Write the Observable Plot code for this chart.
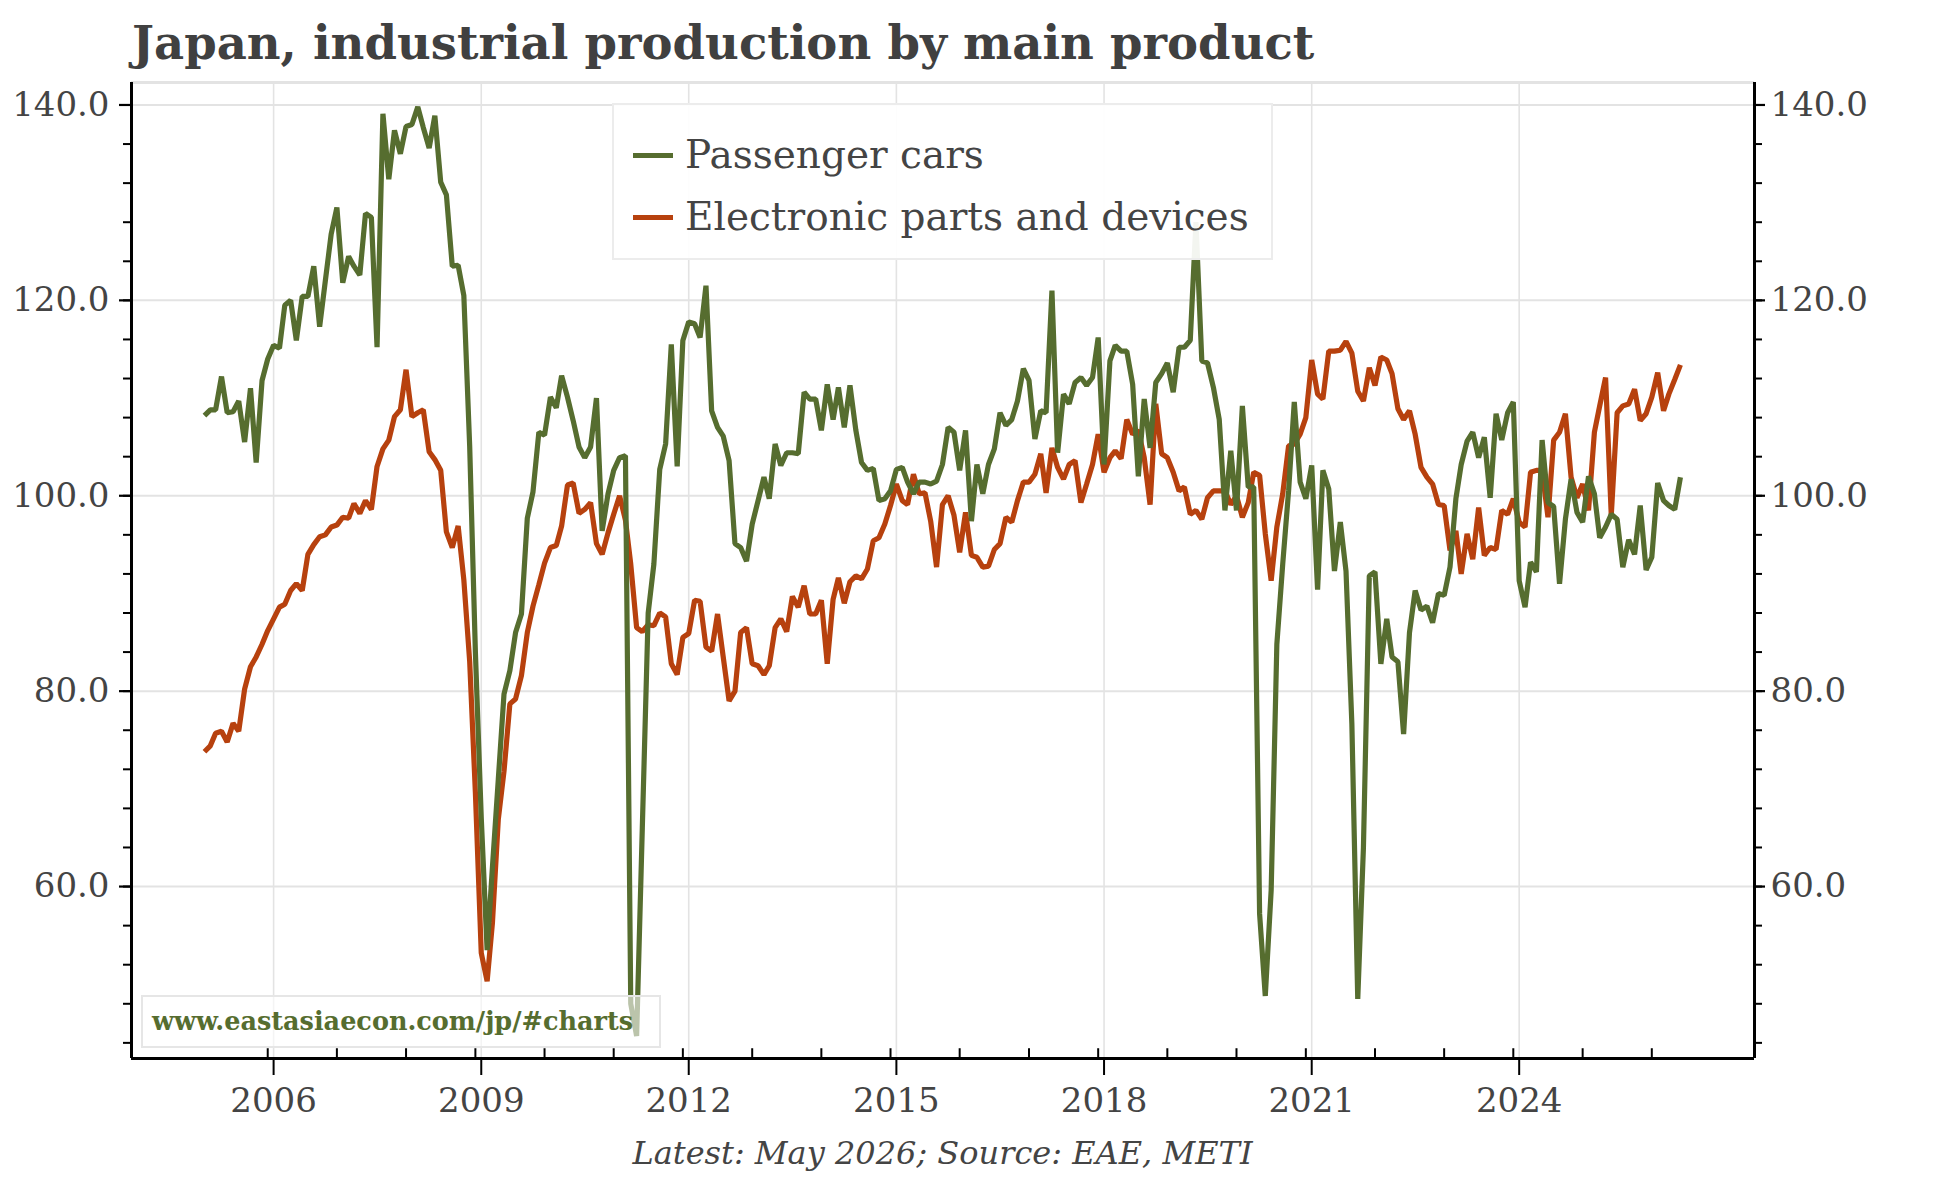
<!DOCTYPE html>
<html>
<head>
<meta charset="utf-8">
<script src="https://cdn.jsdelivr.net/npm/d3@7"></script>
<script src="https://cdn.jsdelivr.net/npm/@observablehq/plot@0.6"></script>
<style>
  body { margin:0; background:#fff; width:1944px; height:1178px; position:relative; overflow:hidden;
         font-family:"DejaVu Serif", serif; color:#444; }
  #title { position:absolute; left:132px; top:20px; font-size:46.5px; line-height:46px; font-weight:bold;
           white-space:nowrap; color:#404040; }
  #chart { position:absolute; left:0; top:70px; }
  #legend { position:absolute; left:612px; top:103px; width:661px; height:157px; box-sizing:border-box;
            background:rgba(255,255,255,0.93); border:2px solid #ececec; }
  .row { position:absolute; left:19px; height:50px; display:flex; align-items:center; }
  .sw { width:40px; height:5px; margin-right:12px; }
  .lt { font-size:39px; line-height:50px; color:#444; white-space:nowrap; }
  #mark { position:absolute; left:141px; top:995px; width:520px; height:53px; box-sizing:border-box;
          background:rgba(255,255,255,0.6); border:2px solid #e6e6e6; font-weight:bold; font-size:25.5px;
          line-height:49px; padding-left:9px; white-space:nowrap; }
  #caption { position:absolute; left:131px; width:1623px; top:1137px; text-align:center; font-style:italic;
             font-size:32px; line-height:33px; color:#444; white-space:nowrap; }
</style>
</head>
<body>
<div id="title"></div>
<div id="chart"></div>
<div id="legend"></div>
<div id="mark"></div>
<div id="caption"></div>
<script>
const titleText = "Japan, industrial production by main product";
const captionText = "Latest: May 2026; Source: EAE, METI";
const watermarkText = "www.eastasiaecon.com/jp/#charts";
const seriesNames = ["Passenger cars", "Electronic parts and devices"];
const seriesColors = ["#566d2f", "#b7410e"];
const firstMonth = [2005, 0];   // Jan 2005
const lastMonth = [2026, 4];    // May 2026
const majorYears = [2006, 2009, 2012, 2015, 2018, 2021, 2024];
const yMajor = [60, 80, 100, 120, 140];
const yMinor = [44, 48, 52, 56, 60, 64, 68, 72, 76, 80, 84, 88, 92, 96, 100, 104, 108, 112, 116, 120, 124, 128, 132, 136, 140];

// Passenger cars, monthly Jan 2005 - May 2026
const passengerCars = [
  108.2, 108.8, 108.8, 112.2, 108.5, 108.6, 109.7, 105.5, 111.0, 103.4, 111.8, 114.0,
  115.4, 115.1, 119.5, 120.0, 115.9, 120.4, 120.4, 123.5, 117.3, 122.0, 126.8, 129.5,
  121.8, 124.5, 123.5, 122.6, 128.9, 128.5, 115.2, 139.1, 132.4, 137.4, 135.0, 137.8,
  138.0, 139.8, 137.7, 135.6, 138.9, 132.1, 130.8, 123.5, 123.6, 120.5, 105.0, 84.0,
  67.0, 53.5, 62.0, 71.0, 79.7, 82.1, 86.0, 87.9, 97.7, 100.4, 106.5, 106.2,
  110.1, 109.0, 112.3, 110.1, 107.7, 105.0, 103.9, 105.0, 110.0, 96.4, 100.2, 102.6,
  103.9, 104.1, 48.0, 44.7, 66.0, 88.0, 93.0, 102.7, 105.3, 115.5, 103.0, 115.9,
  117.8, 117.6, 116.2, 121.5, 108.7, 107.0, 106.1, 103.6, 95.1, 94.7, 93.3, 97.1,
  99.5, 101.9, 99.7, 105.3, 103.1, 104.4, 104.4, 104.3, 110.6, 109.9, 109.9, 106.7,
  111.4, 107.8, 111.1, 107.0, 111.3, 106.7, 103.4, 102.6, 102.8, 99.5, 99.7, 100.5,
  102.7, 102.9, 101.4, 100.2, 101.4, 101.4, 101.2, 101.5, 103.2, 107.0, 106.5, 102.6,
  106.7, 97.4, 103.2, 100.2, 103.2, 104.8, 108.5, 107.2, 107.8, 109.7, 113.0, 111.8,
  105.8, 108.7, 108.5, 121.0, 104.4, 110.4, 109.4, 111.6, 112.1, 111.3, 112.1, 116.2,
  103.2, 113.8, 115.4, 114.8, 114.8, 111.4, 102.0, 109.9, 104.9, 111.6, 112.5, 113.6,
  110.6, 115.2, 115.2, 115.9, 128.0, 113.8, 113.6, 111.1, 107.8, 98.5, 104.6, 98.5,
  109.2, 100.9, 100.9, 57.2, 48.8, 59.6, 84.8, 93.0, 100.5, 109.6, 101.4, 99.7,
  103.1, 90.4, 102.6, 100.7, 92.3, 97.3, 92.3, 76.6, 48.5, 64.0, 91.8, 92.2,
  82.8, 87.4, 83.5, 83.0, 75.6, 86.0, 90.3, 88.3, 88.7, 87.0, 90.0, 89.8,
  92.7, 99.7, 103.2, 105.6, 106.5, 103.9, 106.0, 99.8, 108.4, 105.7, 108.5, 109.6,
  91.3, 88.6, 93.2, 92.2, 105.7, 99.3, 98.9, 91.0, 97.6, 101.7, 98.3, 97.3,
  102.0, 100.2, 95.7, 96.8, 98.1, 97.6, 92.7, 95.5, 94.0, 99.0, 92.4, 93.7,
  101.3, 99.5, 99.0, 98.6, 101.9
];

// Electronic parts and devices, monthly Jan 2005 - May 2026
const electronicParts = [
  73.8, 74.4, 75.7, 75.9, 74.8, 76.7, 75.9, 80.2, 82.5, 83.5, 84.8, 86.2,
  87.4, 88.6, 88.9, 90.3, 91.0, 90.3, 94.0, 95.0, 95.8, 96.0, 96.8, 97.0,
  97.8, 97.7, 99.2, 98.2, 99.5, 98.6, 103.0, 104.8, 105.7, 108.1, 108.8, 112.9,
  108.1, 108.5, 108.8, 104.5, 103.7, 102.6, 96.3, 94.7, 96.9, 91.4, 83.0, 69.6,
  53.2, 50.3, 56.3, 66.9, 71.8, 78.7, 79.2, 81.6, 86.0, 88.7, 90.9, 93.1,
  94.7, 94.9, 96.9, 101.1, 101.3, 98.2, 98.6, 99.3, 95.1, 94.0, 96.2, 98.1,
  100.0, 97.5, 93.0, 86.5, 86.1, 86.8, 86.7, 88.0, 87.6, 82.8, 81.7, 85.5,
  85.9, 89.3, 89.2, 84.5, 84.1, 87.9, 83.5, 79.0, 80.0, 86.0, 86.5, 82.8,
  82.6, 81.7, 82.6, 86.5, 87.4, 86.1, 89.7, 88.6, 90.8, 87.9, 87.9, 89.3,
  82.8, 89.4, 91.6, 89.0, 91.2, 91.8, 91.5, 92.5, 95.4, 95.7, 97.1, 99.0,
  101.2, 99.5, 99.1, 102.2, 100.2, 100.3, 97.4, 92.7, 99.1, 100.0, 98.0, 94.2,
  98.3, 93.9, 93.7, 92.7, 92.8, 94.5, 95.1, 97.8, 97.3, 99.5, 101.4, 101.4,
  102.2, 104.3, 100.3, 104.9, 102.9, 101.7, 103.2, 103.6, 99.3, 101.2, 103.2, 106.3,
  102.4, 103.9, 104.6, 103.8, 107.8, 106.3, 106.7, 103.9, 99.1, 109.4, 104.3, 103.9,
  102.4, 100.5, 100.9, 98.1, 98.5, 97.6, 99.8, 100.5, 100.5, 100.5, 99.1, 100.0,
  97.8, 99.3, 102.4, 102.1, 96.1, 91.3, 96.8, 100.2, 105.1, 105.3, 106.3, 108.0,
  113.9, 110.4, 109.9, 114.8, 114.8, 114.9, 115.8, 114.6, 110.7, 109.7, 113.1, 111.3,
  114.2, 113.9, 112.5, 108.9, 107.8, 108.7, 106.3, 102.9, 101.9, 101.2, 99.1, 99.0,
  94.4, 96.4, 92.0, 96.1, 93.5, 98.8, 93.9, 94.7, 94.5, 98.5, 98.1, 99.7,
  97.3, 96.8, 102.4, 102.6, 102.6, 97.8, 105.7, 106.5, 108.4, 101.9, 99.8, 101.2,
  98.5, 106.5, 109.2, 112.1, 98.0, 108.5, 109.2, 109.4, 110.9, 107.7, 108.4, 110.1,
  112.6, 108.7, 110.4, 111.9, 113.4
];

const seriesValues = [passengerCars, electronicParts];
const dates = d3.utcMonth.range(new Date(Date.UTC(firstMonth[0], firstMonth[1], 1)),
                                new Date(Date.UTC(lastMonth[0], lastMonth[1] + 1, 1)));
const table = seriesNames.flatMap((name, s) =>
  dates.map((date, i) => ({date, series: name, value: seriesValues[s][i]})));

const xDomain = [new Date(Date.UTC(2003, 11, 13)), new Date(Date.UTC(2027, 4, 27))];
const yDomain = [42.4, 142.3];
const majorDates = majorYears.map(y => new Date(Date.UTC(y, 0, 1)));
const minorDates = d3.range(majorYears[0], lastMonth[0] + 1).map(y => new Date(Date.UTC(y - 1, 11, 1)));
const fmt = d => d.toFixed(1);
const lineOpts = {x: "date", y: "value", stroke: "series", strokeWidth: 5.2, strokeLinejoin: "miter", strokeLinecap: "butt"};

const chart = Plot.plot({
  width: 1944,
  height: 1050,
  marginLeft: 131,
  marginRight: 190,
  marginTop: 12,
  marginBottom: 62,
  x: {type: "utc", domain: xDomain},
  y: {domain: yDomain},
  color: {domain: seriesNames, range: seriesColors},
  style: {fontFamily: "'DejaVu Serif', serif", fontSize: "34px", color: "#444", background: "transparent", overflow: "visible"},
  marks: [
    Plot.gridY(yMajor, {stroke: "#e3e3e3", strokeOpacity: 1, strokeWidth: 2}),
    Plot.gridX(majorDates, {stroke: "#e3e3e3", strokeOpacity: 1, strokeWidth: 1.6}),
    Plot.ruleY([yDomain[1]], {stroke: "#e3e3e3", strokeWidth: 3}),
    Plot.lineY(table.filter(d => d.series === seriesNames[1]), lineOpts),
    Plot.lineY(table.filter(d => d.series === seriesNames[0]), lineOpts),
    Plot.ruleY([yDomain[0]], {stroke: "#000", strokeWidth: 3}),
    Plot.ruleX(xDomain, {stroke: "#000", strokeWidth: 3}),
    Plot.axisY(yMajor, {anchor: "left", tickSize: 12, tickPadding: 10, tickFormat: fmt,
      stroke: "#000", strokeWidth: 2.2, fill: "#444", fontSize: 34, label: null}),
    Plot.axisY(yMinor, {anchor: "left", tickSize: 8, stroke: "#000", strokeWidth: 2, fill: "none", label: null}),
    Plot.axisY(yMajor, {anchor: "right", tickSize: 10, tickPadding: 6, tickFormat: fmt,
      stroke: "#000", strokeWidth: 2.2, fill: "#444", fontSize: 34, label: null}),
    Plot.axisY(yMinor, {anchor: "right", tickSize: 7, stroke: "#000", strokeWidth: 2, fill: "none", label: null}),
    Plot.axisX(majorDates, {anchor: "bottom", tickSize: 17, tickPadding: 12, tickFormat: d3.utcFormat("%Y"),
      stroke: "#000", strokeWidth: 2, fill: "#444", fontSize: 34, label: null}),
    Plot.ruleX(minorDates, {y1: yDomain[0], y2: yDomain[0] + 1.0, stroke: "#000", strokeWidth: 2})
  ]
});
document.getElementById("chart").appendChild(chart);

document.getElementById("title").textContent = titleText;
document.getElementById("caption").textContent = captionText;
const mark = document.getElementById("mark");
mark.textContent = watermarkText;
mark.style.color = seriesColors[0];

const legend = document.getElementById("legend");
seriesNames.forEach((name, i) => {
  const row = document.createElement("div");
  row.className = "row";
  row.style.top = (i === 0 ? 25 : 87) + "px";
  const sw = document.createElement("div");
  sw.className = "sw";
  sw.style.background = seriesColors[i];
  const lt = document.createElement("span");
  lt.className = "lt";
  lt.textContent = name;
  row.appendChild(sw);
  row.appendChild(lt);
  legend.appendChild(row);
});
</script>
</body>
</html>
